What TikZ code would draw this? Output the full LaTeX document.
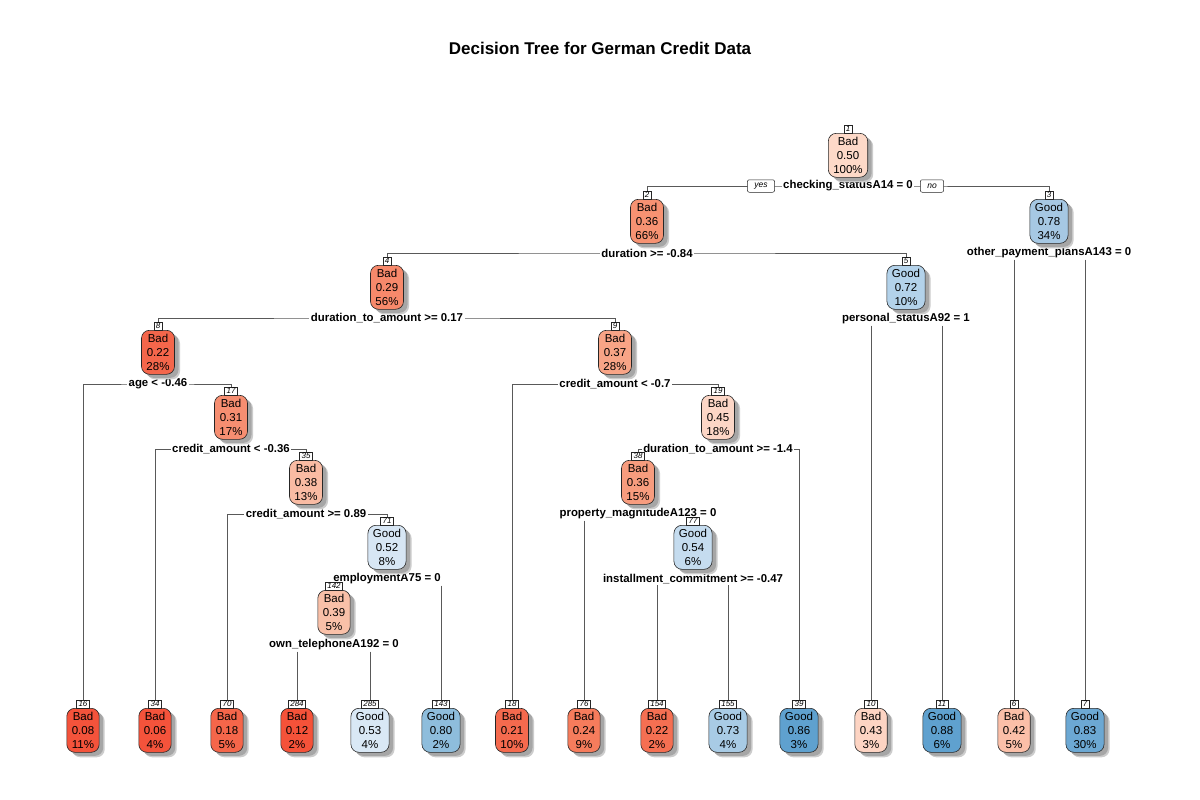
\documentclass[tikz,border=0pt]{standalone}
\usepackage{fontspec}
\setmainfont{Liberation Sans}
\usetikzlibrary{shadows}
\pgfdeclarelayer{bg}
\pgfsetlayers{bg,main}
\definecolor{c01}{HTML}{FDD9C8}
\definecolor{c02}{HTML}{F79272}
\definecolor{c03}{HTML}{A6C8E3}
\definecolor{c04}{HTML}{F7896B}
\definecolor{c05}{HTML}{B3D2EA}
\definecolor{c08}{HTML}{F4664B}
\definecolor{c09}{HTML}{F8A486}
\definecolor{c17}{HTML}{F68E71}
\definecolor{c19}{HTML}{FCD6C6}
\definecolor{c35}{HTML}{F9BBA3}
\definecolor{c38}{HTML}{F79C7E}
\definecolor{c71}{HTML}{D7E6F4}
\definecolor{c77}{HTML}{C5DCEF}
\definecolor{c142}{HTML}{F9C0A8}
\definecolor{c16}{HTML}{F4533B}
\definecolor{c34}{HTML}{F4533B}
\definecolor{c70}{HTML}{F5664A}
\definecolor{c284}{HTML}{F55239}
\definecolor{c285}{HTML}{D9E8F5}
\definecolor{c143}{HTML}{8EBDDC}
\definecolor{c18}{HTML}{F56A4E}
\definecolor{c76}{HTML}{F67C5C}
\definecolor{c154}{HTML}{F56F52}
\definecolor{c155}{HTML}{A8CBE5}
\definecolor{c39}{HTML}{5FA1CF}
\definecolor{c10}{HTML}{FDD4C3}
\definecolor{c11}{HTML}{5FA1CF}
\definecolor{c6}{HTML}{FBBFA8}
\definecolor{c7}{HTML}{6CA8D3}
\tikzset{
  tnode/.style={draw=black!85, line width=0.6pt, rounded corners=8pt,
    minimum height=44pt, inner xsep=5pt, inner ysep=0pt, align=center,
    font=\fontsize{11.5}{14}\selectfont,
    drop shadow={shadow xshift=5.5pt, shadow yshift=-5pt, fill=black!20, opacity=1},
    drop shadow={shadow xshift=4pt, shadow yshift=-3.5pt, fill=black!35, opacity=1}},
  numlab/.style={draw=black!85, line width=0.5pt, fill=white, inner xsep=2pt,
    inner ysep=1pt, font=\itshape\fontsize{8}{9}\selectfont},
  splitlab/.style={fill=white, inner xsep=1.5pt, inner ysep=1pt,
    font=\bfseries\fontsize{11.4}{13}\selectfont},
  ynbox/.style={draw=black!85, line width=0.5pt, fill=white, rounded corners=2pt,
    font=\itshape\fontsize{8.5}{9}\selectfont, minimum height=12.5pt,
    inner xsep=7pt, inner ysep=0pt},
  conn/.style={draw=black!65, line width=0.6pt},
  titlestyle/.style={font=\bfseries\fontsize{17}{20}\selectfont}
}
\newcommand{\mktreenode}[8]{%
  \node[tnode, fill=#8, anchor=north] (#1) at (#2,#3) {#5\\#6\\#7};
  \node[numlab, anchor=south] (#1l) at (#1.north) {#4};
}
\begin{document}
\begin{tikzpicture}[x=1pt,y=-1pt]
\useasboundingbox (0,0) rectangle (1200,800);
\begin{pgfonlayer}{bg}
\fill[white] (0,0) rectangle (1200,800);
\end{pgfonlayer}
\node[titlestyle] (title) at (600,48) {Decision Tree for German Credit Data};
% split labels
\node[splitlab] (s1) at (848,186) {checking\_statusA14 = 0};
\node[ynbox] (yes) at (761,186) {yes};
\node[ynbox] (no) at (932,186) {no};
\node[splitlab] (s2) at (647,253) {duration >= -0.84};
\node[splitlab] (s3) at (1049,253) {other\_payment\_plansA143 = 0};
\node[splitlab] (s4) at (387,318) {duration\_to\_amount >= 0.17};
\node[splitlab] (s5) at (906,319) {personal\_statusA92 = 1};
\node[splitlab] (s8) at (158,384) {age < -0.46};
\node[splitlab] (s9) at (615,384) {credit\_amount < -0.7};
\node[splitlab] (s17) at (231,449) {credit\_amount < -0.36};
\node[splitlab] (s19) at (718,449) {duration\_to\_amount >= -1.4};
\node[splitlab] (s35) at (306,514) {credit\_amount >= 0.89};
\node[splitlab] (s38) at (638,514) {property\_magnitudeA123 = 0};
\node[splitlab] (s71) at (387,579) {employmentA75 = 0};
\node[splitlab] (s77) at (693,579) {installment\_commitment >= -0.47};
\node[splitlab] (s142) at (334,645) {own\_telephoneA192 = 0};
% internal nodes
\mktreenode{n1}{848}{133}{1}{Bad}{0.50}{100\%}{c01}
\mktreenode{n2}{647}{199}{2}{Bad}{0.36}{66\%}{c02}
\mktreenode{n3}{1049}{199}{3}{Good}{0.78}{34\%}{c03}
\mktreenode{n4}{387}{265}{4}{Bad}{0.29}{56\%}{c04}
\mktreenode{n5}{906}{265}{5}{Good}{0.72}{10\%}{c05}
\mktreenode{n8}{158}{330}{8}{Bad}{0.22}{28\%}{c08}
\mktreenode{n9}{615}{330}{9}{Bad}{0.37}{28\%}{c09}
\mktreenode{n17}{231}{395}{17}{Bad}{0.31}{17\%}{c17}
\mktreenode{n19}{718}{395}{19}{Bad}{0.45}{18\%}{c19}
\mktreenode{n35}{306}{460}{35}{Bad}{0.38}{13\%}{c35}
\mktreenode{n38}{638}{460}{38}{Bad}{0.36}{15\%}{c38}
\mktreenode{n71}{387}{525}{71}{Good}{0.52}{8\%}{c71}
\mktreenode{n77}{693}{525}{77}{Good}{0.54}{6\%}{c77}
\mktreenode{n142}{334}{590}{142}{Bad}{0.39}{5\%}{c142}
% leaves
\mktreenode{n16}{83}{708}{16}{Bad}{0.08}{11\%}{c16}
\mktreenode{n34}{155}{708}{34}{Bad}{0.06}{4\%}{c34}
\mktreenode{n70}{227}{708}{70}{Bad}{0.18}{5\%}{c70}
\mktreenode{n284}{297}{708}{284}{Bad}{0.12}{2\%}{c284}
\mktreenode{n285}{370}{708}{285}{Good}{0.53}{4\%}{c285}
\mktreenode{n143}{441}{708}{143}{Good}{0.80}{2\%}{c143}
\mktreenode{n18}{512}{708}{18}{Bad}{0.21}{10\%}{c18}
\mktreenode{n76}{584}{708}{76}{Bad}{0.24}{9\%}{c76}
\mktreenode{n154}{657}{708}{154}{Bad}{0.22}{2\%}{c154}
\mktreenode{n155}{728}{708}{155}{Good}{0.73}{4\%}{c155}
\mktreenode{n39}{799}{708}{39}{Good}{0.86}{3\%}{c39}
\mktreenode{n10}{871}{708}{10}{Bad}{0.43}{3\%}{c10}
\mktreenode{n11}{942}{708}{11}{Good}{0.88}{6\%}{c11}
\mktreenode{n6}{1014}{708}{6}{Bad}{0.42}{5\%}{c6}
\mktreenode{n7}{1085}{708}{7}{Good}{0.83}{30\%}{c7}
% connectors
\begin{pgfonlayer}{bg}
\draw[conn] (n2l.north) |- (s1.center) -| (n3l.north);
\draw[conn] (n4l.north) |- (s2.center) -| (n5l.north);
\draw[conn] (s3.south -| n6l) -- (n6l.north);
\draw[conn] (s3.south -| n7l) -- (n7l.north);
\draw[conn] (n8l.north) |- (s4.center) -| (n9l.north);
\draw[conn] (s5.south -| n10l) -- (n10l.north);
\draw[conn] (s5.south -| n11l) -- (n11l.north);
\draw[conn] (n16l.north) |- (s8.center) -| (n17l.north);
\draw[conn] (n18l.north) |- (s9.center) -| (n19l.north);
\draw[conn] (n34l.north) |- (s17.center) -| (n35l.north);
\draw[conn] (n38l.north) |- (s19.center) -| (n39l.north);
\draw[conn] (n70l.north) |- (s35.center) -| (n71l.north);
\draw[conn] (s38.south -| n76l) -- (n76l.north);
\draw[conn] (s71.south -| n143l) -- (n143l.north);
\draw[conn] (s77.south -| n154l) -- (n154l.north);
\draw[conn] (s77.south -| n155l) -- (n155l.north);
\draw[conn] (s142.south -| n284l) -- (n284l.north);
\draw[conn] (s142.south -| n285l) -- (n285l.north);
\end{pgfonlayer}
\end{tikzpicture}
\end{document}
